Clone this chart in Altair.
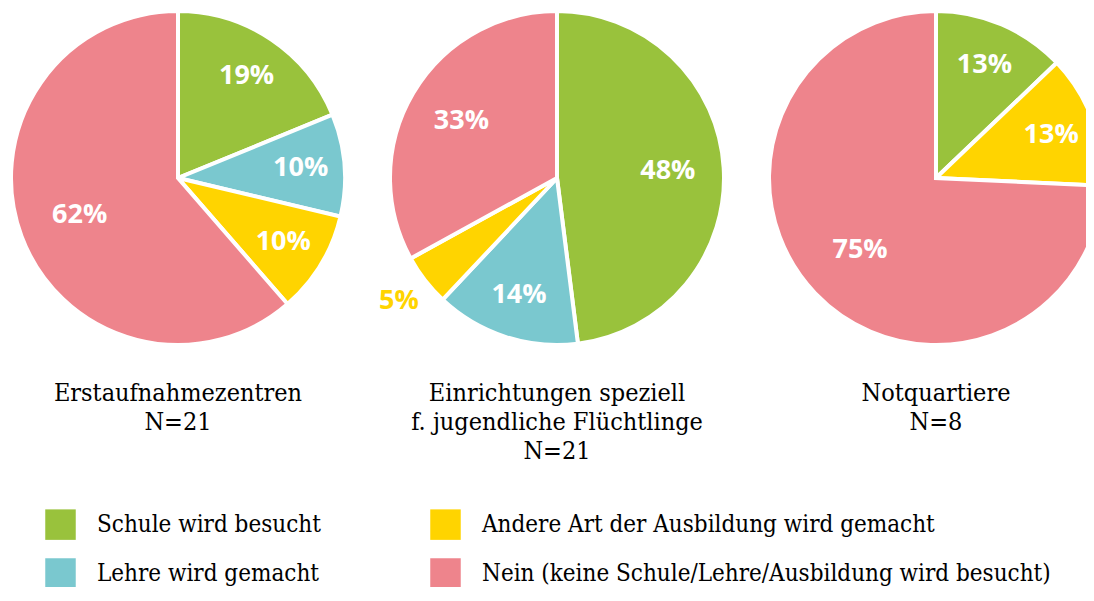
import altair as alt
import pandas as pd

# ---- data -------------------------------------------------------------
categories = [
    "Schule wird besucht",
    "Lehre wird gemacht",
    "Andere Art der Ausbildung wird gemacht",
    "Nein (keine Schule/Lehre/Ausbildung wird besucht)",
]
colors = ["#99C23C", "#7AC8CF", "#FFD400", "#EE848C"]

groups = [
    "Erstaufnahmezentren",
    "Einrichtungen speziell f. jugendliche Flüchtlinge",
    "Notquartiere",
]
pie_titles = [
    ["Erstaufnahmezentren", "N=21"],
    ["Einrichtungen speziell", "f. jugendliche Flüchtlinge", "N=21"],
    ["Notquartiere", "N=8"],
]
erstaufnahme = [19, 10, 10, 62]
einrichtungen = [48, 14, 5, 33]
notquartiere = [13, 0, 13, 75]

SERIF = "DejaVu Serif Condensed"
SANS = "Open Sans"

rows = []
for g, vals in zip(groups, [erstaufnahme, einrichtungen, notquartiere]):
    for k, (c, v) in enumerate(zip(categories, vals)):
        rows.append({"gruppe": g, "cat": c, "k": k, "v": v})
df = pd.DataFrame(rows)
titles_df = pd.DataFrame(
    {"gruppe": groups, "titel": ["\n".join(t) for t in pie_titles]}
)

color_scale = alt.Scale(domain=categories, range=colors)
legend = alt.Legend(
    title=None,
    orient="none",
    legendX=37,
    legendY=501,
    columns=2,
    columnPadding=109,
    rowPadding=18,
    padding=0,
    symbolType="square",
    symbolSize=930,
    symbolStrokeWidth=0,
    symbolOpacity=1,
    labelFont=SERIF,
    labelFontSize=24,
    labelColor="black",
    labelOffset=21,
    labelLimit=1000,
)

X = alt.X(
    "gruppe:N",
    axis=None,
    scale=alt.Scale(type="point", domain=groups, padding=0.42216, align=0.53125),
)
CY = alt.value(170)
theta_scale = alt.Scale(domain=[0, 1])

base = (
    alt.Chart(df)
    .transform_filter("datum.v > 0")
    .transform_stack(
        stack="v",
        groupby=["gruppe"],
        as_=["s0", "s1"],
        sort=[alt.SortField("k")],
        offset="normalize",
    )
    .transform_calculate(mid="(datum.s0 + datum.s1) / 2", lbl="datum.v + '%'")
)

arcs = base.mark_arc(outerRadius=167, stroke="white", strokeWidth=4, clip=True).encode(
    x=X,
    y=CY,
    theta=alt.Theta("s0:Q", stack=None, scale=theta_scale),
    theta2="s1:Q",
    color=alt.Color("cat:N", scale=color_scale, legend=legend),
)

txt = dict(font=SANS, fontWeight="bold", fontSize=27)
enc = dict(
    x=X, y=CY, theta=alt.Theta("mid:Q", stack=None, scale=theta_scale), text="lbl:N"
)
huge = base.transform_filter("datum.v >= 50").mark_text(
    radius=105, color="white", **txt
).encode(**enc)
big = base.transform_filter("datum.v >= 30 && datum.v < 50").mark_text(
    radius=111, color="white", **txt
).encode(**enc)
middle = base.transform_filter("datum.v > 5 && datum.v < 30").mark_text(
    radius=123, color="white", **txt
).encode(**enc)
small = base.transform_filter("datum.v <= 5").mark_text(radius=200, **txt).encode(
    color=alt.Color("cat:N", scale=color_scale, legend=legend), **enc
)

titles = alt.Chart(titles_df).mark_text(
    font=SERIF,
    fontSize=25,
    color="black",
    align="center",
    baseline="alphabetic",
    lineBreak="\n",
    lineHeight=29,
).encode(x=X, y=alt.value(393), text="titel:N")

chart = (
    alt.layer(arcs, huge, big, middle, small, titles)
    .properties(
        width=1078,
        height=579,
        padding=0,
        autosize=alt.AutoSizeParams(type="none"),
    )
    .configure_view(stroke=None)
)

chart.save("out.html", embed_options={"renderer": "svg", "actions": False})
